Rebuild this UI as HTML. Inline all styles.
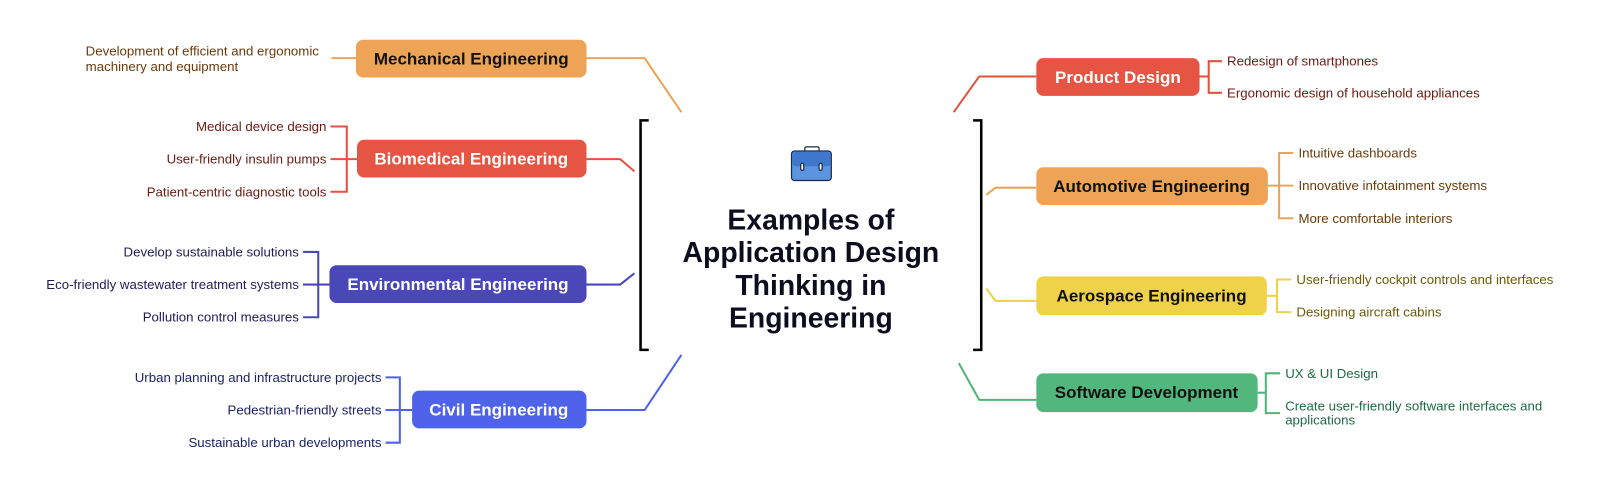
<!DOCTYPE html>
<html><head><meta charset="utf-8"><style>
html,body{margin:0;padding:0;background:#fff;}
svg{display:block;}
text{font-family:"Liberation Sans",Arial,sans-serif;}
.n{font-size:16.7px;font-weight:bold;text-anchor:middle;dominant-baseline:central;}
.l{font-size:13px;dominant-baseline:central;}
.r{text-anchor:end;}
</style></head><body>
<svg width="1600" height="499" viewBox="0 0 1600 499" xmlns="http://www.w3.org/2000/svg">
<g transform="scale(1.02)">
<g fill="none" stroke-width="2">
<polyline points="575,57 632,57 668,110" stroke="#eba457"/>
<line x1="325" y1="57" x2="349" y2="57" stroke="#eba457"/>
<polyline points="575,156 608,156 622,168" stroke="#e2533f"/>
<polyline points="324,124 340,124 340,188 324,188" stroke="#e2533f"/>
<line x1="324" y1="156" x2="350" y2="156" stroke="#e2533f"/>
<polyline points="575,279 608,279 622,268" stroke="#4a47b8"/>
<polyline points="297,247 312,247 312,311 297,311" stroke="#4a47b8"/>
<line x1="297" y1="279" x2="323" y2="279" stroke="#4a47b8"/>
<polyline points="575,402 632,402 668,348" stroke="#4e63e8"/>
<polyline points="378,370 392,370 392,434 378,434" stroke="#4e63e8"/>
<line x1="378" y1="402" x2="404" y2="402" stroke="#4e63e8"/>
<polyline points="935,110 960,75 1016,75" stroke="#e2533f"/>
<polyline points="1198,60 1185,60 1185,91 1198,91" stroke="#e2533f"/>
<line x1="1176" y1="75" x2="1185" y2="75" stroke="#e2533f"/>
<polyline points="967,191 976,184 1016,184" stroke="#eba457"/>
<polyline points="1268,150 1254,150 1254,214 1268,214" stroke="#eba457"/>
<line x1="1243" y1="182" x2="1268" y2="182" stroke="#eba457"/>
<polyline points="967,283 976,295 1016,295" stroke="#ecd14a"/>
<polyline points="1266,274 1252,274 1252,306 1266,306" stroke="#ecd14a"/>
<line x1="1242" y1="290" x2="1252" y2="290" stroke="#ecd14a"/>
<polyline points="940,356 960,392 1016,392" stroke="#4fb47a"/>
<polyline points="1255,366 1241,366 1241,405 1255,405" stroke="#4fb47a"/>
<line x1="1233" y1="385" x2="1241" y2="385" stroke="#4fb47a"/>
<polyline points="636,118 628,118 628,343 636,343" stroke="#000" stroke-width="2.5"/>
<polyline points="954,118 962,118 962,343 954,343" stroke="#000" stroke-width="2.5"/>
</g>
<rect x="349" y="39" width="226" height="37" rx="7" fill="#eda457"/>
<text class="n" x="462" y="58" fill="#111">Mechanical Engineering</text>
<rect x="350" y="137" width="225" height="37" rx="7" fill="#e65444"/>
<text class="n" x="462" y="156" fill="#fff">Biomedical Engineering</text>
<rect x="323" y="260" width="252" height="37" rx="7" fill="#4a47b8"/>
<text class="n" x="449" y="279" fill="#fff">Environmental Engineering</text>
<rect x="404" y="383" width="171" height="37" rx="7" fill="#4f63ea"/>
<text class="n" x="489" y="402" fill="#fff">Civil Engineering</text>
<rect x="1016" y="57" width="160" height="37" rx="7" fill="#e65444"/>
<text class="n" x="1096" y="76" fill="#fff">Product Design</text>
<rect x="1016" y="164" width="227" height="37" rx="7" fill="#eda457"/>
<text class="n" x="1129" y="183" fill="#111">Automotive Engineering</text>
<rect x="1016" y="271" width="226" height="38" rx="7" fill="#efd24a"/>
<text class="n" x="1129" y="290" fill="#111">Aerospace Engineering</text>
<rect x="1016" y="366" width="217" height="38" rx="7" fill="#52b77c"/>
<text class="n" x="1124" y="385" fill="#111">Software Development</text>
<text class="l" x="84" y="50" fill="#6b3a0a">Development of efficient and ergonomic</text>
<text class="l" x="84" y="65" fill="#6b3a0a">machinery and equipment</text>
<text class="l r" x="320" y="124" fill="#6b1a12">Medical device design</text>
<text class="l r" x="320" y="156" fill="#6b1a12">User-friendly insulin pumps</text>
<text class="l r" x="320" y="188" fill="#6b1a12">Patient-centric diagnostic tools</text>
<text class="l r" x="293" y="247" fill="#1e1c5a">Develop sustainable solutions</text>
<text class="l r" x="293" y="279" fill="#1e1c5a">Eco-friendly wastewater treatment systems</text>
<text class="l r" x="293" y="311" fill="#1e1c5a">Pollution control measures</text>
<text class="l r" x="374" y="370" fill="#1c2366">Urban planning and infrastructure projects</text>
<text class="l r" x="374" y="402" fill="#1c2366">Pedestrian-friendly streets</text>
<text class="l r" x="374" y="434" fill="#1c2366">Sustainable urban developments</text>
<text class="l" x="1203" y="60" fill="#6b1a12">Redesign of smartphones</text>
<text class="l" x="1203" y="91" fill="#6b1a12">Ergonomic design of household appliances</text>
<text class="l" x="1273" y="150" fill="#6b3a0a">Intuitive dashboards</text>
<text class="l" x="1273" y="182" fill="#6b3a0a">Innovative infotainment systems</text>
<text class="l" x="1273" y="214" fill="#6b3a0a">More comfortable interiors</text>
<text class="l" x="1271" y="274" fill="#6b5a0a">User-friendly cockpit controls and interfaces</text>
<text class="l" x="1271" y="306" fill="#6b5a0a">Designing aircraft cabins</text>
<text class="l" x="1260" y="366" fill="#1f6b41">UX &amp; UI Design</text>
<text class="l" x="1260" y="398" fill="#1f6b41">Create user-friendly software interfaces and</text>
<text class="l" x="1260" y="412" fill="#1f6b41">applications</text>
<g stroke="#1a2a4a" stroke-width="1.2">
<rect x="789" y="144" width="14" height="5" rx="1.5" fill="#fff"/>
<rect x="776" y="148" width="39" height="29" rx="3" fill="#5b95e0"/>
<rect x="777" y="149" width="37" height="14" rx="2.5" fill="#3e78cc" stroke="none"/>
<rect x="785" y="160" width="3" height="7" rx="1.5" fill="#fff"/>
<rect x="803" y="160" width="3" height="7" rx="1.5" fill="#fff"/>
</g>
<g font-size="27.8" font-weight="bold" text-anchor="middle" fill="#0d0d1f" font-family="Liberation Sans, sans-serif">
<text x="795" y="225">Examples of</text>
<text x="795" y="257">Application Design</text>
<text x="795" y="289">Thinking in</text>
<text x="795" y="321">Engineering</text>
</g>
</g>
</svg>
</body></html>
